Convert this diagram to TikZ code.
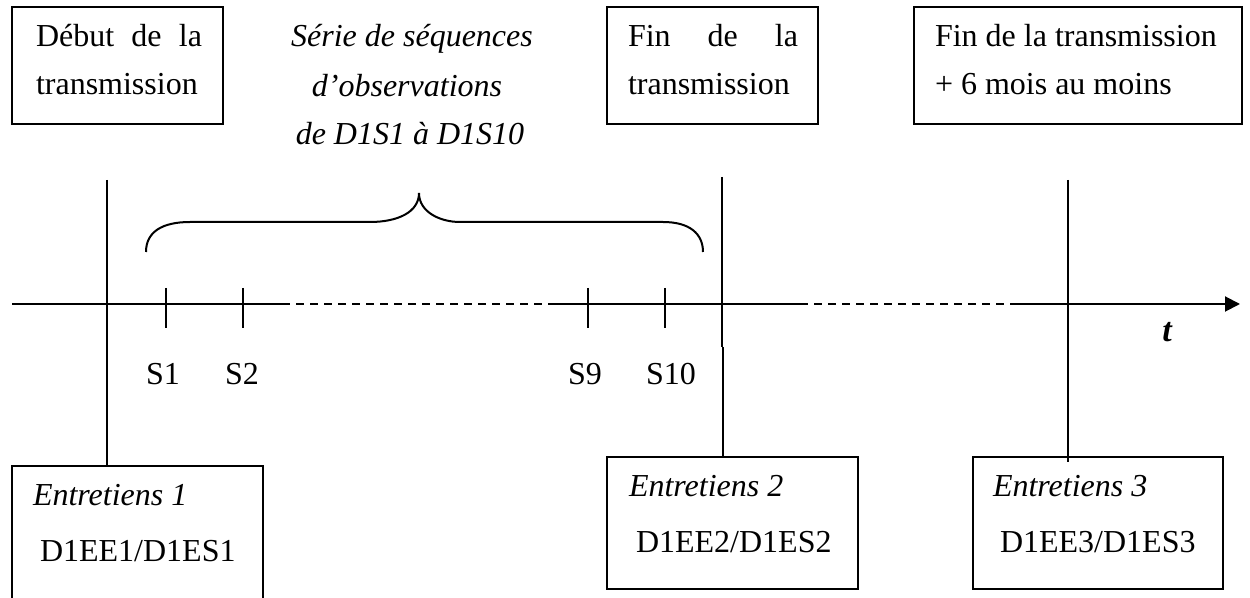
\documentclass[tikz,border=0pt]{standalone}
\usepackage{fontspec}
\setmainfont{Liberation Serif}
\usetikzlibrary{arrows.meta}
\newcommand{\fsz}{\fontsize{16}{24}\selectfont}
\begin{document}
\begin{tikzpicture}[x=0.5pt,y=-0.5pt,
  every node/.style={font=\fsz, inner sep=0pt, outer sep=0pt},
  txt/.style={anchor=base west},
  itxt/.style={anchor=base, font=\fsz\itshape},
  boxed/.style={draw, line width=1pt, anchor=north west, minimum width=#1, minimum height=58.5pt},
  ln/.style={line width=1pt},
  dashline/.style={line width=1pt, dash pattern=on 4pt off 3pt}]
\useasboundingbox (0,0) rectangle (1250,598);

% top boxes
\node[boxed=105.5pt] (b1) at (12,7) {};
\node[boxed=105.5pt] (b2) at (607,7) {};
\node[boxed=164pt] (b3) at (914,7) {};
\node[txt] (b1l1) at (36,47) {\makebox[83pt][s]{Début de la}};
\node[txt] (b1l2) at (36,95) {transmission};
\node[txt] (b2l1) at (628,47) {\makebox[85pt][s]{Fin de la}};
\node[txt] (b2l2) at (628,95) {transmission};
\node[txt] (b3l1) at (935,47) {Fin de la transmission};
\node[txt] (b3l2) at (935,95) {+ 6 mois au moins};

% italic label
\node[itxt] (s1) at (412,47) {Série de séquences};
\node[itxt] (s2) at (407,97) {d’observations};
\node[itxt] (s3) at (410,145) {de D1S1 à D1S10};

% brace
\coordinate (brL) at (146,252);
\coordinate (brR) at (703,252);
\coordinate (brM) at (419,193);
\draw[ln] (brL) .. controls (146,232) and (162,222) .. (190,222) -- (370,222)
  .. controls (398,222) and (419,212) .. (brM)
  .. controls (419,212) and (440,222) .. (460,222) -- (663,222)
  .. controls (690,222) and (703,234) .. (brR);

% time axis
\coordinate (a0) at (12,304);
\coordinate (a1) at (282,304);
\coordinate (a2) at (548,304);
\coordinate (a3) at (800,304);
\coordinate (a4) at (1010,304);
\coordinate (a5) at (1240,304);
\draw[ln] (a0) -- (a1);
\draw[dashline] (a1) -- (a2);
\draw[ln] (a2) -- (a3);
\draw[dashline] (a3) -- (a4);
\draw[ln, -{Triangle[length=7.5pt, width=7.5pt]}] (a4) -- (a5);
\node[anchor=base, font=\fontsize{17}{24}\selectfont\bfseries\itshape] (t) at (1167,342) {t};

% ticks
\foreach \x/\n in {166/S1, 243/S2, 588/S9, 665/S10} {
  \coordinate (tk\n) at (\x,288);
  \draw[ln] (tk\n) -- ++(0,40);
}
\node[anchor=base] (lS1) at (163,385) {S1};
\node[anchor=base] (lS2) at (242,385) {S2};
\node[anchor=base] (lS9) at (585,385) {S9};
\node[anchor=base] (lS10) at (671,385) {S10};

% bottom boxes
\coordinate (e1bl) at (12,598);
\coordinate (e1tr) at (263,466);
\coordinate (e1br) at (263,598);
\draw[ln] (e1bl) |- (e1tr) -- (e1br);
\node[boxed=125.5pt, minimum height=66pt] (e2) at (607,457) {};
\node[boxed=125pt, minimum height=66pt] (e3) at (973,457) {};
\node[txt, font=\fsz\itshape] (e1a) at (33,506) {Entretiens 1};
\node[txt] (e1b) at (40,562) {D1EE1/D1ES1};
\node[txt, font=\fsz\itshape] (e2a) at (629,497) {Entretiens 2};
\node[txt] (e2b) at (636,553) {D1EE2/D1ES2};
\node[txt, font=\fsz\itshape] (e3a) at (993,497) {Entretiens 3};
\node[txt] (e3b) at (1000,553) {D1EE3/D1ES3};

% vertical lines
\coordinate (v1) at (107,180);
\draw[ln] (v1) -- (v1 |- e1tr);
\coordinate (v2) at (722,177);
\coordinate (v2m) at (722,347);
\coordinate (v2n) at (723,347);
\draw[ln] (v2) -- (v2m);
\draw[line width=0.6pt] (v2n) -- (v2n |- e2.north);
\coordinate (v3) at (1068,180);
\coordinate (v3b) at (1068,462);
\draw[ln] (v3) -- (v3b);
\end{tikzpicture}
\end{document}
